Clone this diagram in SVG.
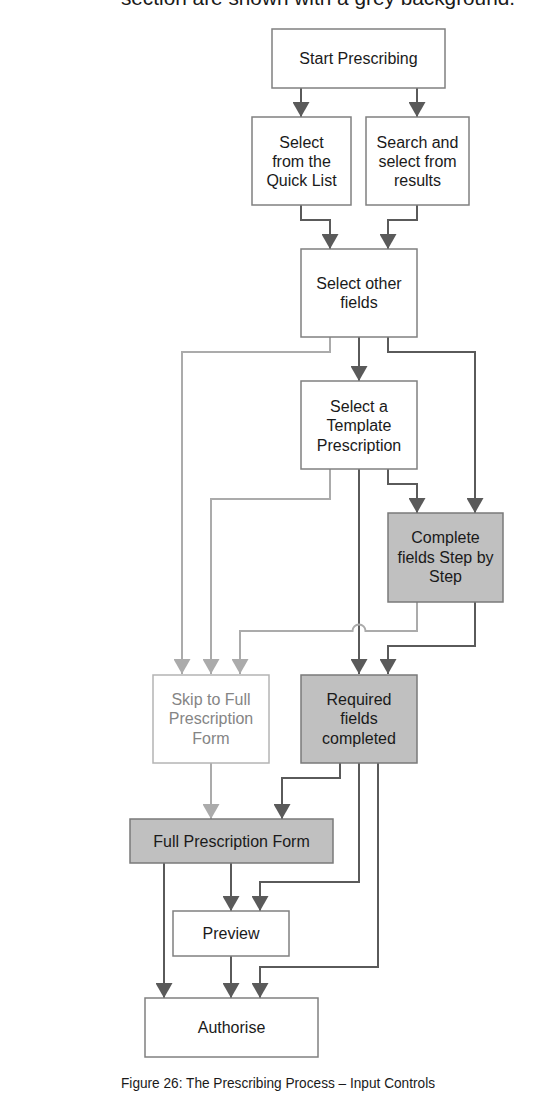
<svg xmlns="http://www.w3.org/2000/svg" width="533" height="1111" viewBox="0 0 533 1111">
<style>
text{font-family:"Liberation Sans",Arial,sans-serif;fill:#1a1a1a;text-anchor:middle}
.lbl{font-size:16px}
.box{fill:#fff;stroke:#808080;stroke-width:1.5}
.grey{fill:#c0c0c0;stroke:#7a7a7a;stroke-width:1.5}
.skip{fill:#fff;stroke:#b4b4b4;stroke-width:1.5}
.skipt{fill:#858585}
.dk{fill:none;stroke:#5a5a5a;stroke-width:2;marker-end:url(#ad)}
.lt{fill:none;stroke:#ababab;stroke-width:2;marker-end:url(#al)}
</style>
<defs>
<marker id="ad" viewBox="0 0 15 17" refX="15" refY="8.5" markerWidth="15" markerHeight="17" markerUnits="userSpaceOnUse" orient="auto"><path d="M0,0 L15,8.5 L0,17 z" fill="#5a5a5a"/></marker>
<marker id="al" viewBox="0 0 15 17" refX="15" refY="8.5" markerWidth="15" markerHeight="17" markerUnits="userSpaceOnUse" orient="auto"><path d="M0,0 L15,8.5 L0,17 z" fill="#ababab"/></marker>
</defs>
<text x="318" y="5" style="font-size:20.8px;text-anchor:middle">section are shown with a grey background.</text>
<g id="connectors">
<path class="dk" d="M301,88 V117"/>
<path class="dk" d="M417,88 V117"/>
<path class="dk" d="M301,205 V220 H330 V249"/>
<path class="dk" d="M417,205 V220 H388 V249"/>
<path class="lt" d="M330,337 V352 H182 V674"/>
<path class="dk" d="M359,337 V381"/>
<path class="dk" d="M388,337 V352 H475 V513"/>
<path class="lt" d="M330,469 V499 H211 V674"/>
<path class="dk" d="M359,469 V674"/>
<path class="dk" d="M388,469 V484 H417 V513"/>
<path class="lt" d="M417,602 V631 H365.5 A6.5,6.5 0 0 0 352.5,631 H240 V674"/>
<path class="dk" d="M475,602 V646 H388 V674"/>
<path class="lt" d="M211,763 V819"/>
<path class="dk" d="M340,763 V778 H282 V819"/>
<path class="dk" d="M359,763 V882 H260 V911"/>
<path class="dk" d="M378,763 V967 H260 V998"/>
<path class="dk" d="M164,863 V998"/>
<path class="dk" d="M231,863 V911"/>
<path class="dk" d="M231,956 V998"/>
</g>
<g id="start"><rect class="box" x="272" y="29" width="173" height="59"/><text class="lbl" x="358.5" y="64">Start Prescribing</text></g>
<g id="quicklist"><rect class="box" x="252" y="117" width="99" height="88"/><text class="lbl" x="301.5" y="147.5">Select</text><text class="lbl" x="301.5" y="167">from the</text><text class="lbl" x="301.5" y="186">Quick List</text></g>
<g id="search"><rect class="box" x="366" y="117" width="103" height="88"/><text class="lbl" x="417.5" y="147.5">Search and</text><text class="lbl" x="417.5" y="167">select from</text><text class="lbl" x="417.5" y="186">results</text></g>
<g id="otherfields"><rect class="box" x="301" y="249" width="116" height="88"/><text class="lbl" x="359" y="288.5">Select other</text><text class="lbl" x="359" y="307.5">fields</text></g>
<g id="template"><rect class="box" x="301" y="381" width="116" height="88"/><text class="lbl" x="359" y="411.5">Select a</text><text class="lbl" x="359" y="431">Template</text><text class="lbl" x="359" y="450.5">Prescription</text></g>
<g id="stepbystep"><rect class="grey" x="388" y="513" width="115" height="89"/><text class="lbl" x="445.5" y="543">Complete</text><text class="lbl" x="445.5" y="562.5">fields Step by</text><text class="lbl" x="445.5" y="582">Step</text></g>
<g id="skip"><rect class="skip" x="153" y="675" width="116" height="88"/><text class="lbl skipt" x="211" y="704.5">Skip to Full</text><text class="lbl skipt" x="211" y="724">Prescription</text><text class="lbl skipt" x="211" y="743.5">Form</text></g>
<g id="required"><rect class="grey" x="301" y="675" width="116" height="88"/><text class="lbl" x="359" y="704.5">Required</text><text class="lbl" x="359" y="724">fields</text><text class="lbl" x="359" y="743.5">completed</text></g>
<g id="fullform"><rect class="grey" x="130" y="819" width="203" height="44"/><text class="lbl" x="231.5" y="847">Full Prescription Form</text></g>
<g id="preview"><rect class="box" x="173" y="911" width="116" height="45"/><text class="lbl" x="231" y="938.5">Preview</text></g>
<g id="authorise"><rect class="box" x="145" y="998" width="173" height="59"/><text class="lbl" x="231.5" y="1032.5">Authorise</text></g>
<text x="278" y="1088" style="font-size:14px" textLength="314" lengthAdjust="spacingAndGlyphs">Figure 26: The Prescribing Process – Input Controls</text>
</svg>
